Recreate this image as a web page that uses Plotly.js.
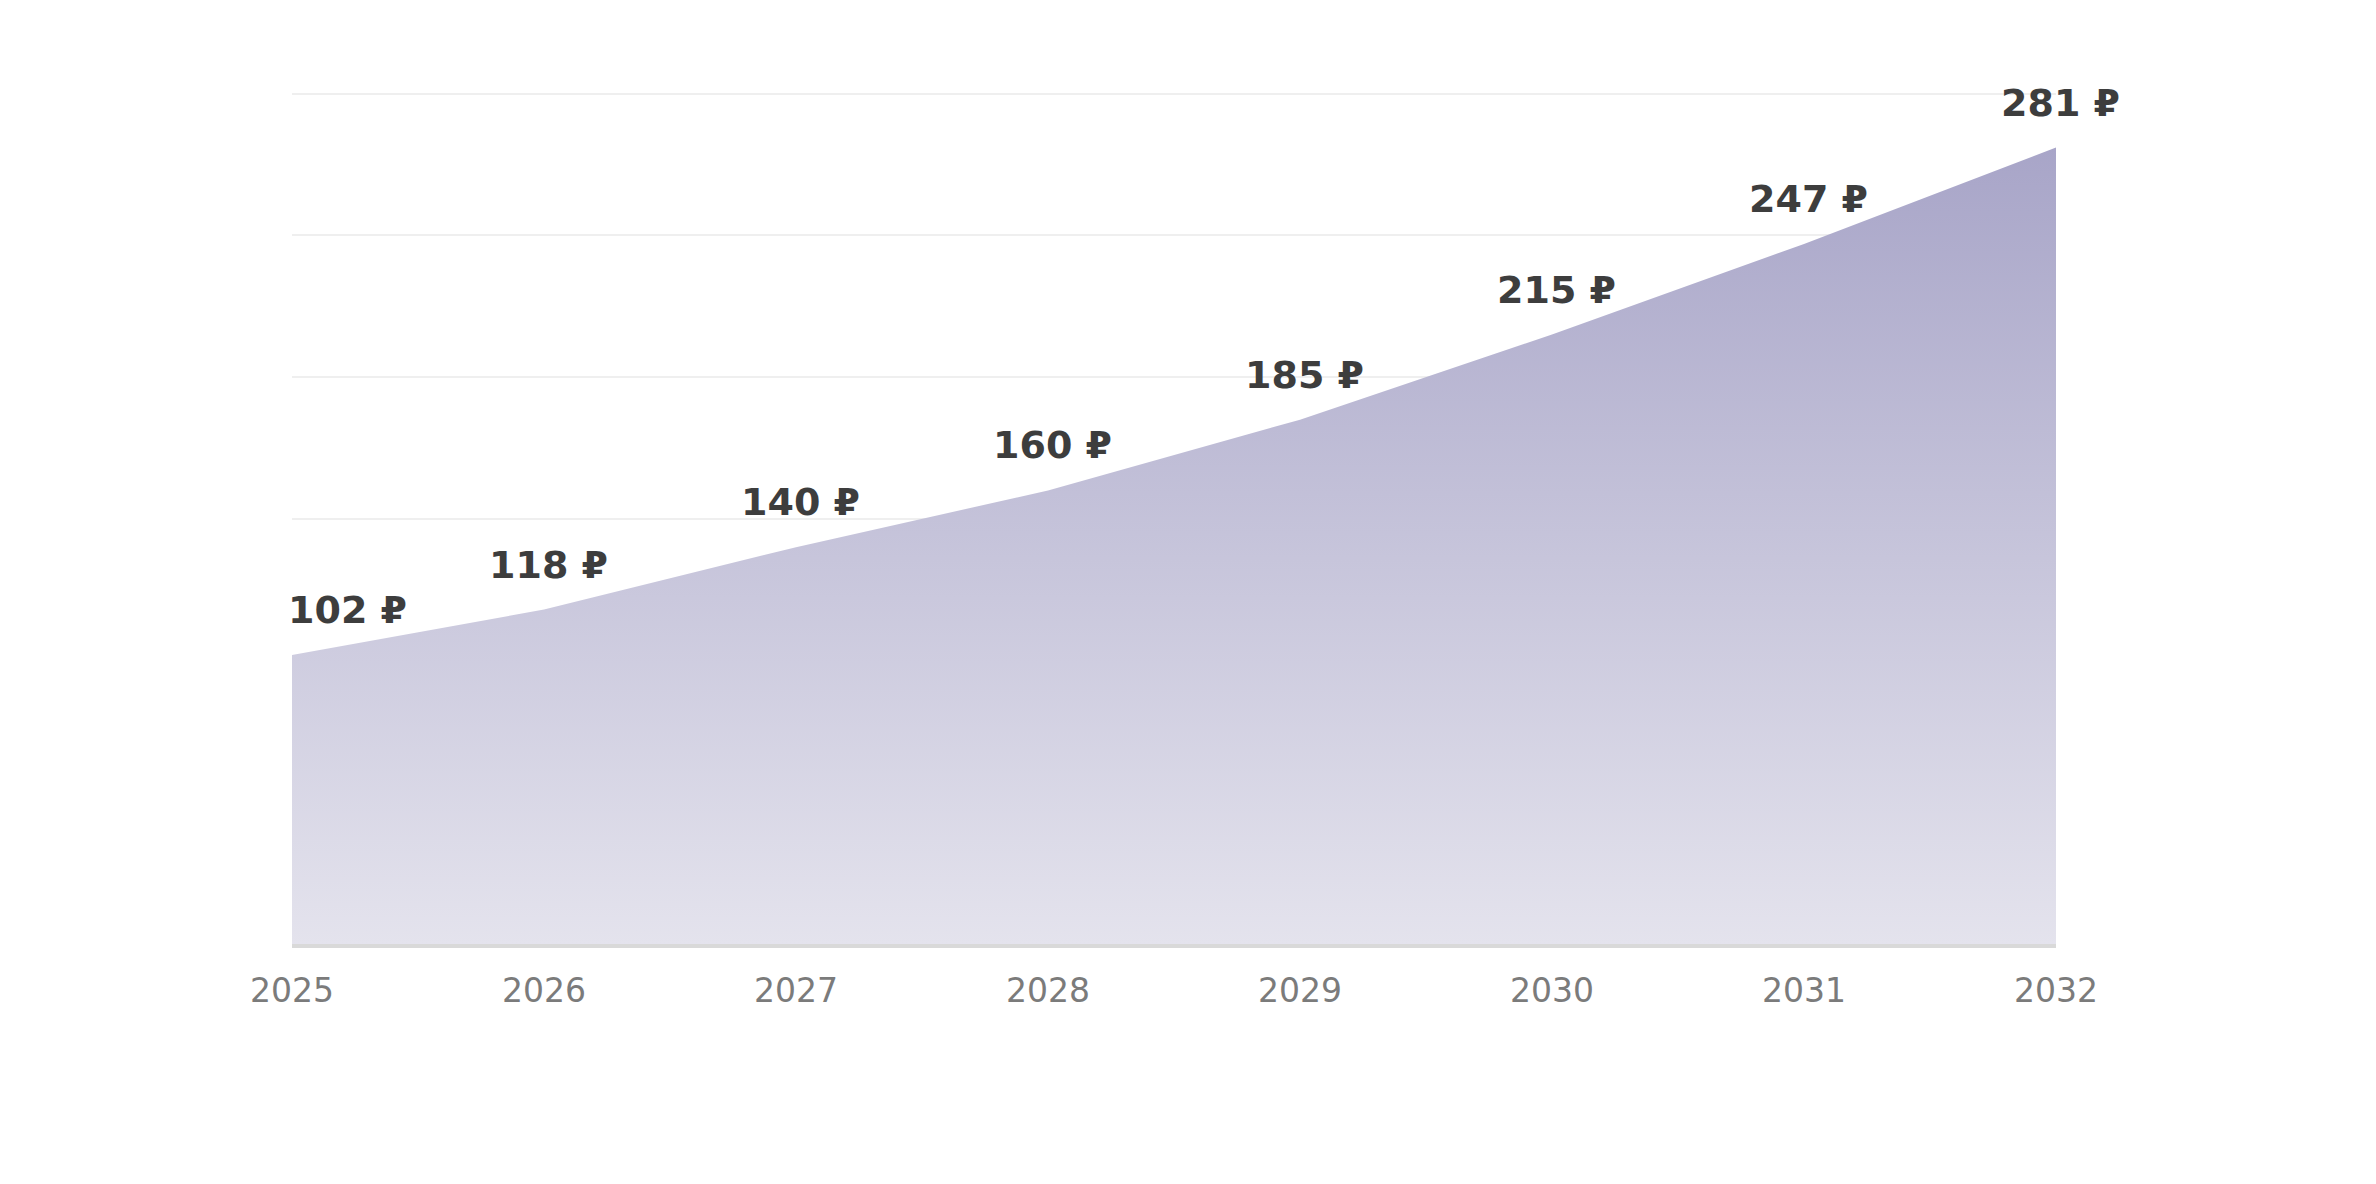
<!DOCTYPE html>
<html>
<head>
<meta charset="utf-8">
<script src="https://cdn.plot.ly/plotly-3.0.1.min.js"></script>
<style>
html,body{margin:0;padding:0;background:#fff;}
#chart{width:2376px;height:1184px;}
</style>
</head>
<body>
<div id="chart"></div>
<script>
const years = [2025, 2026, 2027, 2028, 2029, 2030, 2031, 2032];
const prices = [102, 118, 140, 160, 185, 215, 247, 281];
const currency = ' ₽';
const yTicks = [0, 50, 100, 150, 200, 250, 300];

const trace = {
  x: years,
  y: prices,
  type: 'scatter',
  mode: 'lines',
  fill: 'tozeroy',
  line: {width: 0, color: 'rgba(0,0,0,0)'},
  fillgradient: {
    type: 'vertical',
    colorscale: [[0, '#e4e3ed'], [1, '#a8a5c8']]
  },
  hoverinfo: 'skip',
  showlegend: false
};

const annotations = years.map((yr, i) => ({
  x: yr,
  y: prices[i],
  xref: 'x',
  yref: 'y',
  text: prices[i] + currency,
  showarrow: false,
  xanchor: i === 0 ? 'left' : 'center',
  xshift: i === 0 ? -6 : 4,
  yanchor: 'bottom',
  yshift: 21,
  font: {family: 'DejaVu Sans, Verdana, sans-serif', size: 38, color: '#3d3d3d', weight: 700}
}));

const layout = {
  width: 2376,
  height: 1184,
  margin: {l: 292, r: 320, t: 88, b: 240},
  paper_bgcolor: '#ffffff',
  plot_bgcolor: '#ffffff',
  showlegend: false,
  xaxis: {
    range: [2025, 2032],
    tickmode: 'array',
    tickvals: years,
    ticktext: years.map(String),
    showgrid: false,
    zeroline: false,
    showline: true,
    linecolor: '#d9d9d9',
    linewidth: 4,
    ticks: '',
    ticklabelstandoff: 14,
    tickfont: {family: 'DejaVu Sans, Verdana, sans-serif', size: 33, color: '#7b7b7b'}
  },
  yaxis: {
    range: [0, 302],
    tickmode: 'array',
    tickvals: yTicks,
    showticklabels: false,
    showgrid: true,
    gridcolor: '#efefef',
    gridwidth: 2,
    zeroline: false,
    showline: false,
    ticks: ''
  },
  annotations: annotations
};

Plotly.newPlot('chart', [trace], layout, {displayModeBar: false, staticPlot: true});
</script>
</body>
</html>
